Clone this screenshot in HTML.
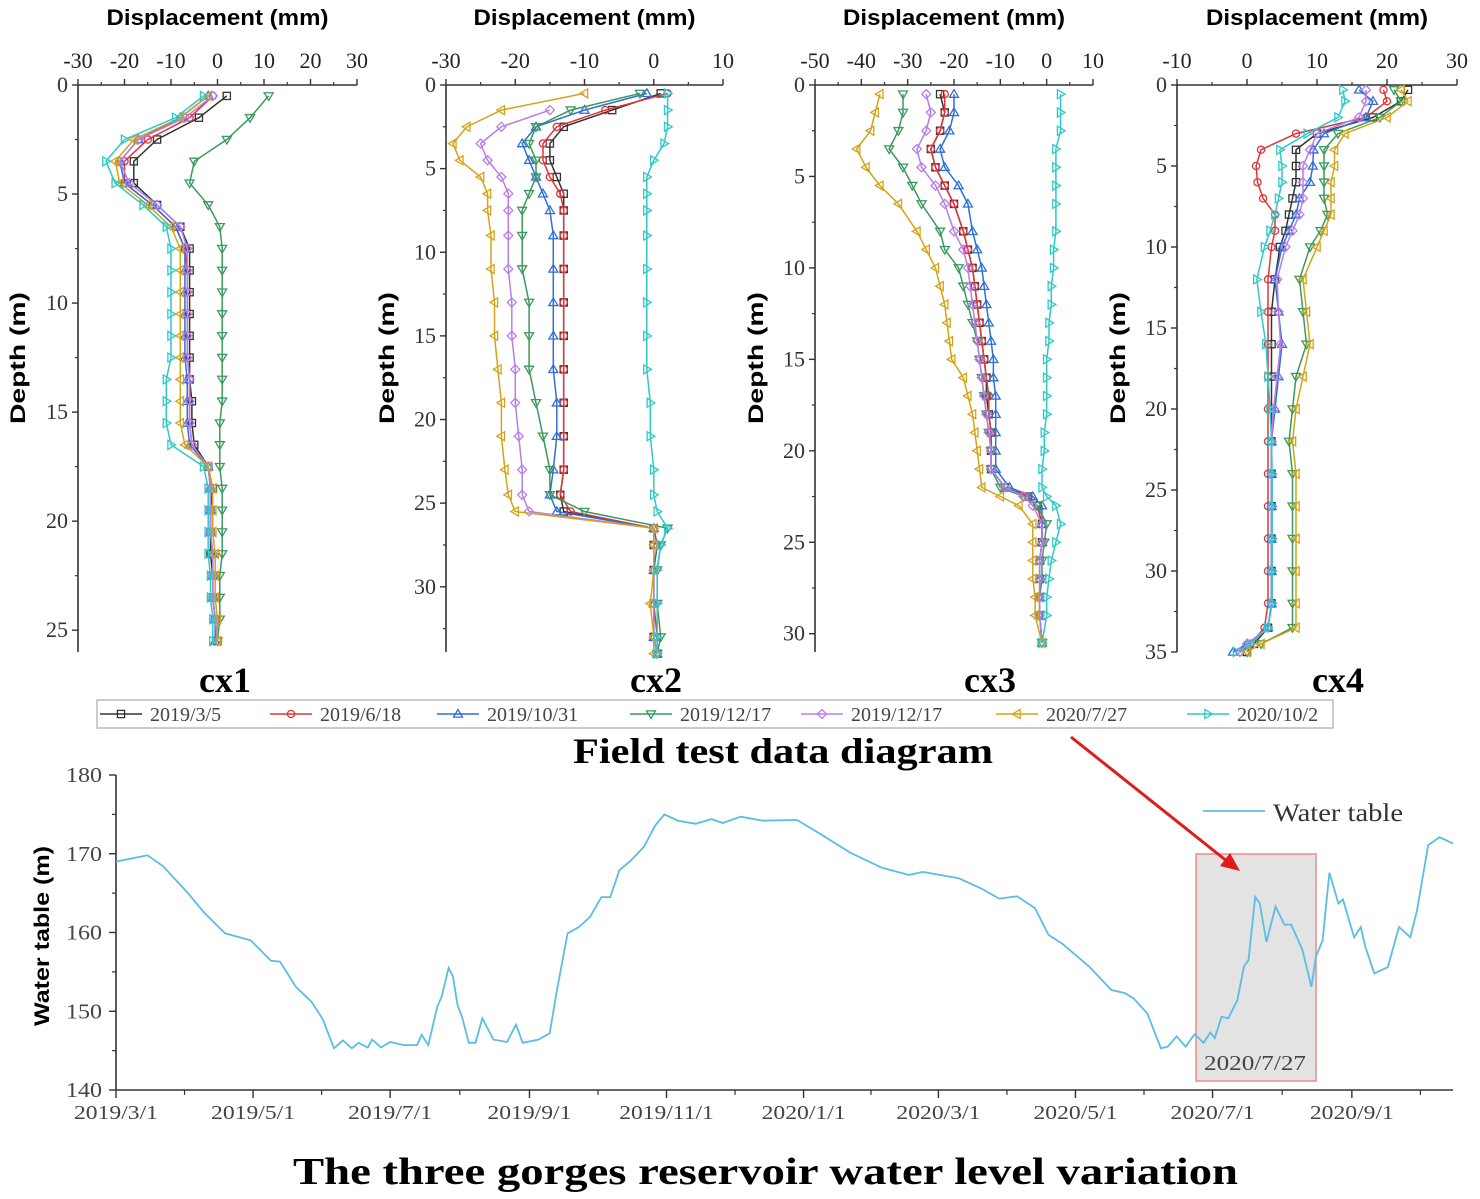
<!DOCTYPE html>
<html><head><meta charset="utf-8"><style>
body{margin:0;background:#fff;}
svg{display:block;font-family:"Liberation Serif",serif;}
</style></head><body>
<svg id="root" width="1480" height="1199" viewBox="0 0 1480 1199" xmlns="http://www.w3.org/2000/svg">
<g id="panels"></g>
<g id="legend"></g>
<text x="573" y="763" font-size="36" font-weight="bold" textLength="420" lengthAdjust="spacingAndGlyphs">Field test data diagram</text>
<g id="water"></g>
<text x="293" y="1184" font-size="38" font-weight="bold" textLength="945" lengthAdjust="spacingAndGlyphs">The three gorges reservoir water level variation</text>
</svg>
<script>
const seriesNames = ["2019/3/5","2019/6/18","2019/10/31","2019/12/17","2019/12/17","2020/7/27","2020/10/2"];
const seriesColors = ["#333333","#e0353a","#2f6fd6","#3a9a5c","#b77ee8","#d4a417","#2ec9c9"];
const seriesMarkers = ["square","circle","up","down","diamond","left","right"];

const cx1Depth = [0.5,1.5,2.5,3.5,4.5,5.5,6.5,7.5,8.5,9.5,10.5,11.5,12.5,13.5,14.5,15.5,16.5,17.5,18.5,19.5,20.5,21.5,22.5,23.5,24.5,25.5];
const cx1Black  = [2,-4,-13,-18,-18,-13,-8,-6,-6,-6,-6,-6,-6,-6,-5.5,-5.5,-5,-2,-1,-1.5,-1.5,-1.5,-1,-1,-0.5,0];
const cx1Red    = [-1,-6,-15,-20,-20,-14,-9,-7,-6.5,-6.5,-6.5,-6.5,-6.5,-6,-6,-6,-5.5,-2,-1.5,-1.5,-1.5,-1,-1,-1,-0.5,0];
const cx1Blue   = [-2,-8,-17,-21,-20,-14,-9,-7,-7,-7,-7,-7,-7,-6.5,-6.5,-6.5,-6,-2,-1.5,-1.5,-1.5,-1,-1,-1,-0.5,-0.5];
const cx1Green  = [11,7,2,-5,-6,-2,0.5,1,1,1,1,1,1,1,1,0.5,0.5,0.5,1,1,1,1,0.5,0.5,0.5,0];
const cx1Purple = [-1,-7,-17,-21,-19,-13,-8,-6.5,-6.5,-6.5,-6.5,-6.5,-6.5,-6,-6,-6,-5.5,-2,-1.5,-1.5,-1.5,-1,-1,-1,-0.5,0];
const cx1Gold   = [-2,-8,-18,-22,-21,-15,-10,-8,-8,-8,-8,-8,-8,-8,-8,-8,-7,-2,-1,-1,-1,-0.5,-0.5,-0.5,0,0];
const cx1Cyan   = [-3,-9,-20,-24,-22,-16,-11,-10,-10,-10,-10,-10,-10,-11,-11,-11,-10,-3,-2,-2,-2,-2,-1.5,-1.5,-1,-1];

const cx2Depth = [0.5,1.5,2.5,3.5,4.5,5.5,6.5,7.5,9,11,13,15,17,19,21,23,24.5,25.5,26.5,27.5,29,31,33,34];
const cx2Black  = [1,-6,-13,-15,-15,-14,-13,-13,-13,-13,-13,-13,-13,-13,-13,-13,-13.5,-13,0,0,0,0,0,0.5];
const cx2Red    = [2,-7,-14,-16,-16,-15,-13.5,-13,-13,-13,-13,-13,-13,-13,-13,-13,-13.5,-12,0,0.5,0,0,0.5,0.5];
const cx2Blue   = [-1,-10,-17,-19,-18,-17,-16,-15,-14.5,-14.5,-14.5,-14.5,-14.5,-14,-14,-14.5,-15,-14,0,0.5,0,0,0,0.5];
const cx2Green  = [-2,-12,-17,-18,-17,-17,-18,-19,-19,-19,-18,-18,-18,-17,-16,-15,-15,-10,2,1,0.5,0.5,1,0.5];
const cx2Purple = [null,-15,-22,-25,-24,-22,-21,-21,-21,-21,-20.5,-20.5,-20,-20,-19.5,-19,-19,-18,0,0,0,0,0,0.5];
const cx2Gold   = [-10,-22,-27,-29,-28,-25,-24,-24,-23.5,-23.5,-23,-23,-22.5,-22,-22,-21.5,-21,-20,0,0,0,-0.5,0,0];
const cx2Cyan   = [2,2,2,1.5,0,-1,-1,-1,-1,-1,-1,-1,-1,-0.5,-0.5,0,0,0.5,2,1,0.5,0.5,0.5,0.5];

const cx3Depth = [0.5,1.5,2.5,3.5,4.5,5.5,6.5,8,9,10,11,12,13,14,15,16,17,18,19,20,21,22,22.5,23,24,25,26,27,28,29,30.5];
const cx3Black  = [-23,-22,-23,-25,-24,-22,-20,-18,-17,-16,-15.5,-15,-14.5,-14,-13.5,-13,-13,-12.5,-12,-12,-12,-9,-4,-2,-1,-1,-1.5,-1.5,-1.5,-1.5,-1];
const cx3Red    = [-22,-22,-23,-25,-24,-22,-20,-18,-17,-16,-15.5,-15,-14.5,-14,-13.5,-13,-12.5,-12.5,-12,-12,-12,-9,-4,-2,-1,-1,-1.5,-1.5,-1.5,-1.5,-1];
const cx3Blue   = [-20,-20,-21,-23,-22,-19,-17,-16,-15,-14,-13.5,-13,-12.5,-12,-11.5,-11.5,-11,-11,-11,-11,-11,-8,-3,-1,-1,-1,-1.5,-1.5,-1.5,-1.5,-1];
const cx3Green  = [-31,-31,-32,-34,-31,-29,-27,-23,-22,-19,-18,-17,-16,-15,-14.5,-14,-13.5,-13,-12.5,-12,-12,-10,-5,-2,0,-0.5,-1,-1,-1.5,-1.5,-1];
const cx3Purple = [-26,-25,-26,-28,-27,-24,-22,-20,-18,-17,-16.5,-16,-15.5,-15,-14.5,-14,-13.5,-13,-12.5,-12,-12,-9,-5,-3,-1,-1,-1.5,-1.5,-1.5,-1.5,-1];
const cx3Gold   = [-36,-37,-38,-41,-39,-36,-32,-28,-26,-24,-23,-22,-21.5,-21,-20.5,-18,-17,-16,-15.5,-15,-14.5,-14,-10,-6,-3,-3,-3,-3,-2.5,-2.5,-1];
const cx3Cyan   = [3,3,3,2,2,2,2,2,1.5,1.5,1,1,0.5,0.5,0,0,0,0,-0.5,-0.5,-1,-1,0,2,3,2,1,0.5,0,0,-1];

const cx4Depth = [0.3,1,2,3,4,5,6,7,8,9,10,12,14,16,18,20,22,24,26,28,30,32,33.5,34.5,35];
const cx4Black  = [23,22,18,10,7,7,7,6.5,6,5.5,4.7,4,3.5,3.5,3.5,3.5,3.5,3.5,3.5,3.5,3.5,3.5,3,1,0];
const cx4Red    = [19.5,20,17,7,2,1.3,1.5,2.3,4,4,3.5,3,3,3,3,3,3,3,3,3,3,3,2.5,0.5,-1];
const cx4Blue   = [16,18,17,11,9.5,9.4,9,7.5,7,6,5,4,4.5,5,4.5,4,3.5,3.5,3.5,3.5,3.5,3.5,3,0,-2];
const cx4Green  = [21,22,19,13,11,11,11,11,11.5,10.5,9,7.5,8,8.5,7,6.5,6,6.5,6.5,6.5,6.5,6.5,6.5,2,0];
const cx4Purple = [17,17,16,10,9,8,8,8,7.5,6.5,5.5,4.3,4.5,4.8,4.3,3.8,3.5,3.5,3.5,3.5,3.5,3.5,3,0,-1];
const cx4Gold   = [22,23,20,14,12.5,12.5,12,12,12,11,10,8,8.5,9,8,7,6.5,7,7,7,7,7,7,2,0];
const cx4Cyan   = [13.7,14,13,8.6,4.7,5,5,4.5,4,3.3,2.5,1.4,2,2.7,3,3.3,3.5,3.6,3.6,3.6,3.6,3.6,3,0.5,-1.5];

const xTicks1 = [-30,-20,-10,0,10,20,30];
const xTicks2 = [-30,-20,-10,0,10];
const xTicks3 = [-50,-40,-30,-20,-10,0,10];
const xTicks4 = [-10,0,10,20,30];
const yTicks1 = [0,5,10,15,20,25];
const yTicks2 = [0,5,10,15,20,25,30];
const yTicks3 = [0,5,10,15,20,25,30];
const yTicks4 = [0,5,10,15,20,25,30,35];

const waterDays = [0,14,21,32,39,48.5,60,69,73,80,87,92,97,101,105,108,112,114,118,122,128,134,136,139,143,145,148,150,152,154,157,160,163,165,168,174,178,181,188,193,196,201,206,211,216,220,224,229,235,240,244,250,258,265,270,278,288,303,313,327,341,353,359,375,385,393,401,409,415,421,433,443,449,453,459,465,468,472,476,480,484,487,489,492,495,499,502,504,507,509,512,516,520,523,528,532,534,537,540,544,546,551,554,556,560,566,571,576,579,584,589,595];
const waterLevel = [169.0,169.8,168.4,165.0,162.6,159.9,159.0,156.4,156.3,153.1,151.2,149.0,145.3,146.3,145.3,146.0,145.4,146.4,145.4,146.1,145.7,145.7,147.0,145.7,150.6,151.9,155.5,154.4,150.8,149.3,146.0,146.0,149.1,148.0,146.4,146.1,148.3,146.0,146.4,147.2,152.3,159.9,160.7,162.0,164.5,164.5,167.9,169.1,170.9,173.6,175.0,174.2,173.8,174.4,173.9,174.7,174.2,174.3,172.6,170.1,168.2,167.3,167.7,166.9,165.6,164.3,164.6,163.1,159.7,158.6,155.7,152.7,152.3,151.6,149.7,145.3,145.5,146.8,145.5,147.1,146.0,147.3,146.6,149.3,149.1,151.4,155.7,156.5,164.5,163.7,158.8,163.3,161.0,161.0,157.8,153.1,156.9,159.0,167.6,163.7,164.2,159.4,160.7,158.2,154.8,155.6,160.7,159.4,162.8,171.1,172.1,171.3];
const dateLabels = ["2019/3/1","2019/5/1","2019/7/1","2019/9/1","2019/11/1","2020/1/1","2020/3/1","2020/5/1","2020/7/1","2020/9/1"];
const dateTickDays = [0,61,122,184,245,306,366,427,488,550];
const levelTicks = [140,150,160,170,180];

const NS = "http://www.w3.org/2000/svg";
function mk(tag, attrs, parent, txt){
  const e = document.createElementNS(NS, tag);
  for (const k in attrs) e.setAttribute(k, attrs[k]);
  if (txt !== undefined) e.textContent = txt;
  parent.appendChild(e);
  return e;
}
function marker(type, x, y, color, parent){
  const s = 3.6; let e;
  const st = {fill:"none", stroke:color, "stroke-width":1.3};
  if (type === "square") e = mk("rect", Object.assign({x:x-s,y:y-s,width:2*s,height:2*s}, st), parent);
  else if (type === "circle") e = mk("circle", Object.assign({cx:x,cy:y,r:s}, st), parent);
  else {
    let pts;
    const r = 4.5;
    if (type === "up") pts = [[x,y-r],[x+r,y+r*0.7],[x-r,y+r*0.7]];
    else if (type === "down") pts = [[x,y+r],[x+r,y-r*0.7],[x-r,y-r*0.7]];
    else if (type === "left") pts = [[x-r,y],[x+r*0.7,y-r],[x+r*0.7,y+r]];
    else if (type === "right") pts = [[x+r,y],[x-r*0.7,y-r],[x-r*0.7,y+r]];
    else pts = [[x,y-r],[x+r,y],[x,y+r],[x-r,y]];
    e = mk("polygon", Object.assign({points: pts.map(p=>p.join(",")).join(" ")}, st), parent);
  }
  
  
}

const panels = [
  {name:"cx1", left:78, right:357, top:85, bottom:652, xmin:-30, xmax:30, dmax:26, xt:xTicks1, yt:yTicks1, depth:cx1Depth,
   series:[cx1Black,cx1Red,cx1Blue,cx1Green,cx1Purple,cx1Gold,cx1Cyan], labelX:225, yTitleX:25},
  {name:"cx2", left:446, right:723, top:85, bottom:652, xmin:-30, xmax:10, dmax:33.9, xt:xTicks2, yt:yTicks2, depth:cx2Depth,
   series:[cx2Black,cx2Red,cx2Blue,cx2Green,cx2Purple,cx2Gold,cx2Cyan], labelX:656, yTitleX:394},
  {name:"cx3", left:815, right:1093, top:85, bottom:652, xmin:-50, xmax:10, dmax:31, xt:xTicks3, yt:yTicks3, depth:cx3Depth,
   series:[cx3Black,cx3Red,cx3Blue,cx3Green,cx3Purple,cx3Gold,cx3Cyan], labelX:990, yTitleX:763},
  {name:"cx4", left:1177, right:1457, top:85, bottom:652, xmin:-10, xmax:30, dmax:35, xt:xTicks4, yt:yTicks4, depth:cx4Depth,
   series:[cx4Black,cx4Red,cx4Blue,cx4Green,cx4Purple,cx4Gold,cx4Cyan], labelX:1338, yTitleX:1125}
];

const pg = document.getElementById("panels");
panels.forEach(p => {
  const g = mk("g", {}, pg);
  
  
  const xs = v => p.left + (v - p.xmin) / (p.xmax - p.xmin) * (p.right - p.left);
  const ys = d => p.top + d / p.dmax * (p.bottom - p.top);
  const ax = mk("path", {d:`M${p.left},${p.bottom}V${p.top}H${p.right}`, fill:"none", stroke:"#333", "stroke-width":1.6}, g);
  
  
  const step = p.xt[1] - p.xt[0];
  p.xt.forEach((t, i) => {
    mk("line", {x1:xs(t), x2:xs(t), y1:p.top, y2:p.top-6, stroke:"#333", "stroke-width":1.4}, g);
    if (i < p.xt.length - 1) mk("line", {x1:xs(t+step/2), x2:xs(t+step/2), y1:p.top, y2:p.top-3, stroke:"#333", "stroke-width":1.2}, g);
    const tl = mk("text", {x:xs(t), y:p.top-17, "text-anchor":"middle", "font-size":22, fill:"#222"}, g, String(t));
    
    
  });
  const ystep = p.yt[1] - p.yt[0];
  p.yt.forEach(t => {
    mk("line", {x1:p.left-6, x2:p.left, y1:ys(t), y2:ys(t), stroke:"#333", "stroke-width":1.4}, g);
    if (t + ystep/2 < p.dmax) mk("line", {x1:p.left-3, x2:p.left, y1:ys(t+ystep/2), y2:ys(t+ystep/2), stroke:"#333", "stroke-width":1.2}, g);
    const tl = mk("text", {x:p.left-10, y:ys(t)+7, "text-anchor":"end", "font-size":22, fill:"#333"}, g, String(t));
    
    
  });
  const xt = mk("text", {x:(p.left+p.right)/2-111, y:25, "font-size":22, "font-weight":"bold", "font-family":"Liberation Sans, sans-serif", textLength:222, lengthAdjust:"spacingAndGlyphs"}, g, "Displacement (mm)");
  
  
  const yt = mk("text", {x:-66, y:0, transform:`translate(${p.yTitleX},358) rotate(-90)`, "font-size":21, "font-weight":"bold", "font-family":"Liberation Sans, sans-serif", textLength:132, lengthAdjust:"spacingAndGlyphs"}, g, "Depth (m)");
  
  
  const lbl = mk("text", {x:p.labelX, y:692, "text-anchor":"middle", "font-size":36, "font-weight":"bold"}, g, p.name);
  
  
  p.series.forEach((vals, si) => {
    const sg = mk("g", {}, g);
    
    
    let dstr = "";
    vals.forEach((v, i) => {
      if (v === null) return;
      dstr += (dstr ? "L" : "M") + xs(v).toFixed(1) + "," + ys(p.depth[i]).toFixed(1);
    });
    const ln = mk("path", {d:dstr, fill:"none", stroke:seriesColors[si], "stroke-width":1.5}, sg);
    
    
    vals.forEach((v, i) => {
      if (v === null) return;
      marker(seriesMarkers[si], xs(v), ys(p.depth[i]), seriesColors[si], sg);
    });
  });
});

const lg = document.getElementById("legend");
const box = mk("rect", {x:97, y:700, width:1236, height:28, fill:"#fff", stroke:"#aaa", "stroke-width":1.2}, lg);


const legendTextX = [150, 320, 487, 680, 851, 1046, 1237];
seriesNames.forEach((n, i) => {
  const eg = mk("g", {}, lg);
  
  
  const tx = legendTextX[i];
  mk("line", {x1:tx-50, x2:tx-8, y1:714, y2:714, stroke:seriesColors[i], "stroke-width":1.5}, eg);
  marker(seriesMarkers[i], tx-29, 714, seriesColors[i], eg);
  mk("text", {x:tx, y:721, "font-size":20, fill:"#444"}, eg, n);
});

const wg = document.getElementById("water");
const WL = 116, WR = 1453, WT = 775, WB = 1090;
const wx = d => WL + d * 2.247;
const wy = v => WB - (v - 140) / 40 * (WB - WT);
const shade = mk("rect", {x:1196, y:854, width:120, height:227, fill:"#e3e3e3", stroke:"#f08a8a", "stroke-width":1.5}, wg);


const hl = mk("text", {x:1204, y:1070, "font-size":21, fill:"#444", textLength:102, lengthAdjust:"spacingAndGlyphs"}, wg, "2020/7/27");


const wax = mk("path", {d:`M${WL},${WT}V${WB}H${WR}`, fill:"none", stroke:"#333", "stroke-width":1.6}, wg);


levelTicks.forEach((t, i) => {
  mk("line", {x1:WL-7, x2:WL, y1:wy(t), y2:wy(t), stroke:"#333", "stroke-width":1.4}, wg);
  if (i < levelTicks.length - 1) mk("line", {x1:WL-4, x2:WL, y1:wy(t+5), y2:wy(t+5), stroke:"#333", "stroke-width":1.2}, wg);
  const tl = mk("text", {x:WL-14, y:wy(t)+7, "text-anchor":"end", "font-size":21, fill:"#444", textLength:36, lengthAdjust:"spacingAndGlyphs"}, wg, String(t));
  
  
});
dateTickDays.forEach((d, i) => {
  mk("line", {x1:wx(d), x2:wx(d), y1:WB, y2:WB+8, stroke:"#333", "stroke-width":1.4}, wg);
  const nx = i < dateTickDays.length - 1 ? dateTickDays[i+1] : d + 61;
  if (wx((d+nx)/2) < WR) mk("line", {x1:wx((d+nx)/2), x2:wx((d+nx)/2), y1:WB, y2:WB+5, stroke:"#333", "stroke-width":1.2}, wg);
  const w = dateLabels[i].length * 10.5;
  const tl = mk("text", {x:wx(d)-w/2, y:WB+29, "font-size":20, fill:"#444", textLength:w, lengthAdjust:"spacingAndGlyphs"}, wg, dateLabels[i]);
  
  
});
const wyt = mk("text", {x:-90, y:0, transform:"translate(49,936) rotate(-90)", "font-size":21, "font-weight":"bold", "font-family":"Liberation Sans, sans-serif", textLength:180, lengthAdjust:"spacingAndGlyphs"}, wg, "Water table (m)");


let wd = "";
waterDays.forEach((d, i) => { wd += (i ? "L" : "M") + wx(d).toFixed(1) + "," + wy(waterLevel[i]).toFixed(1); });
const wl = mk("path", {d:wd, fill:"none", stroke:"#5bbde4", "stroke-width":1.8}, wg);


const wlg = mk("g", {}, wg);


mk("line", {x1:1203, x2:1265, y1:811, y2:811, stroke:"#5bbde4", "stroke-width":1.8}, wlg);
mk("text", {x:1273, y:821, "font-size":25, fill:"#333", textLength:130, lengthAdjust:"spacingAndGlyphs"}, wlg, "Water table");
const arr = mk("g", {}, wg);


mk("line", {x1:1071, x2:1228, y1:737, y2:862, stroke:"#e01b1b", "stroke-width":3}, arr);
mk("polygon", {points:"1240,871 1220,866 1230,853", fill:"#e01b1b"}, arr);
</script>
</body></html>
